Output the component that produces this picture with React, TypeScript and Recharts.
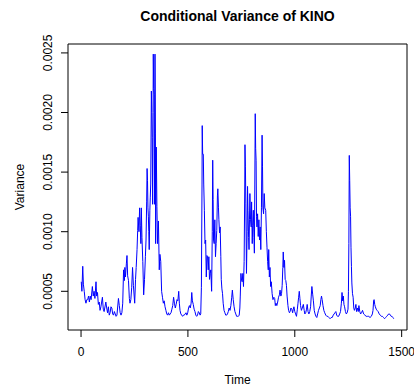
import { LineChart, Line, XAxis, YAxis, ReferenceArea } from "recharts";

// [time index, conditional variance in units of 1e-4]
const points: [number, number][] = [
  [1, 5.8], [4, 5.0], [8, 7.1], [11, 5.6], [15, 5.0], [19, 4.3], [23, 4.0], [27, 4.3],
  [31, 4.3], [35, 4.6], [39, 4.1], [43, 4.6], [47, 4.3], [53, 5.4], [57, 4.6], [61, 5.0],
  [65, 4.4], [70, 5.8], [73, 4.6], [77, 4.9], [81, 3.9], [85, 4.1], [89, 3.4], [93, 3.7],
  [100, 4.5], [104, 3.5], [108, 3.3], [116, 4.1], [120, 3.6], [124, 3.2], [128, 3.7], [132, 3.0],
  [136, 3.2], [140, 3.7], [144, 3.6], [148, 3.1], [152, 3.0], [156, 3.3], [160, 3.1], [164, 2.9],
  [168, 3.0], [175, 4.4], [179, 3.8], [183, 3.2], [187, 3.0], [191, 3.2], [195, 4.0], [199, 6.8],
  [203, 5.9], [205, 7.0], [208, 6.2], [212, 7.3], [215, 8.0], [218, 6.3], [222, 5.9], [226, 4.4],
  [229, 4.0], [233, 4.3], [237, 5.3], [241, 7.0], [245, 5.5], [251, 4.0], [255, 6.0], [258, 7.0],
  [262, 8.5], [265, 10.1], [267, 11.2], [271, 10.0], [274, 12.0], [277, 10.5], [280, 9.0], [282, 12.0],
  [285, 9.5], [289, 7.5], [293, 4.7], [297, 6.0], [301, 7.9], [304, 9.3], [307, 12.5], [309, 15.3],
  [311, 14.3], [313, 12.0], [315, 11.3], [317, 10.0], [319, 8.5], [322, 11.8], [324, 12.9], [326, 14.0],
  [329, 21.8], [331, 20.0], [333, 17.9], [335, 12.3], [337, 20.0], [338, 24.9], [340, 22.0], [342, 21.5],
  [344, 12.3], [346, 24.9], [348, 18.2], [349, 9.0], [352, 17.1], [355, 12.1], [358, 9.0], [362, 10.9],
  [366, 6.8], [369, 8.1], [373, 7.5], [377, 5.0], [381, 4.5], [385, 4.0], [389, 4.2], [393, 3.7],
  [397, 3.4], [401, 3.1], [405, 3.0], [409, 3.2], [413, 3.0], [417, 3.1], [421, 3.2], [425, 3.5],
  [429, 3.8], [433, 4.5], [437, 4.0], [441, 3.6], [445, 3.9], [449, 4.3], [453, 4.2], [457, 5.0],
  [460, 4.0], [463, 3.4], [467, 3.1], [471, 3.0], [475, 2.9], [479, 3.0], [483, 3.0], [487, 3.1],
  [491, 3.2], [495, 3.0], [499, 3.2], [503, 3.6], [507, 3.8], [511, 3.6], [515, 4.0], [518, 4.9],
  [521, 4.2], [525, 3.9], [529, 3.5], [533, 3.3], [537, 3.0], [541, 2.9], [545, 3.0], [549, 3.3],
  [553, 3.2], [557, 3.0], [560, 3.1], [563, 5.3], [566, 14.0], [567, 18.9], [569, 16.5], [572, 16.5],
  [574, 14.0], [577, 11.8], [580, 9.0], [583, 9.3], [586, 6.2], [589, 8.0], [592, 7.9], [595, 6.8],
  [598, 7.9], [601, 6.0], [604, 6.5], [607, 6.8], [611, 5.0], [614, 10.0], [616, 16.0], [618, 12.7],
  [620, 9.3], [623, 9.0], [626, 11.0], [629, 7.9], [632, 9.0], [635, 10.1], [638, 13.0], [640, 13.6],
  [643, 12.0], [645, 11.0], [648, 9.9], [651, 10.4], [654, 7.9], [656, 6.0], [659, 5.2], [662, 4.8],
  [665, 4.0], [669, 3.4], [673, 3.2], [677, 3.0], [681, 3.0], [685, 3.1], [689, 3.3], [693, 3.6],
  [697, 3.4], [701, 3.8], [705, 4.5], [708, 5.1], [712, 4.3], [716, 3.7], [720, 3.3], [724, 3.1],
  [728, 2.9], [732, 2.9], [736, 2.9], [740, 3.0], [743, 3.6], [745, 4.6], [748, 6.5], [751, 5.9],
  [754, 5.8], [757, 6.5], [760, 5.4], [763, 7.5], [766, 14.0], [767, 17.3], [769, 15.5], [771, 12.4],
  [774, 6.5], [777, 10.0], [779, 13.8], [781, 11.8], [784, 9.5], [786, 8.5], [788, 11.0], [790, 13.2],
  [793, 11.0], [796, 10.4], [798, 12.5], [801, 9.0], [803, 10.5], [806, 11.8], [809, 9.5], [811, 8.2],
  [813, 14.0], [815, 19.9], [817, 17.0], [819, 16.0], [821, 11.3], [823, 10.4], [826, 11.5], [829, 9.6],
  [832, 11.0], [835, 9.3], [838, 10.4], [841, 8.5], [844, 12.0], [847, 18.1], [849, 15.5], [851, 12.0],
  [854, 11.5], [857, 13.2], [860, 12.0], [864, 11.8], [867, 10.0], [870, 8.7], [873, 7.5], [876, 6.8],
  [878, 8.5], [881, 6.2], [884, 7.0], [887, 5.4], [890, 5.8], [894, 4.8], [898, 4.3], [902, 4.5],
  [906, 4.4], [909, 3.8], [912, 4.0], [916, 3.8], [920, 4.1], [924, 4.5], [928, 4.7], [931, 5.1],
  [935, 4.6], [938, 4.8], [941, 5.5], [944, 7.0], [946, 8.3], [949, 7.0], [952, 7.6], [955, 6.0],
  [958, 5.9], [961, 5.5], [964, 4.6], [968, 3.8], [971, 3.4], [975, 3.2], [978, 3.3], [982, 3.6],
  [986, 3.5], [990, 3.2], [993, 3.5], [996, 3.7], [1000, 3.3], [1004, 3.1], [1008, 2.9], [1012, 3.5],
  [1015, 4.0], [1018, 4.5], [1021, 5.0], [1024, 4.4], [1027, 3.8], [1031, 3.4], [1035, 3.6], [1040, 3.9],
  [1044, 3.4], [1047, 3.1], [1051, 3.2], [1055, 3.5], [1058, 3.9], [1062, 3.3], [1066, 3.1], [1070, 3.3],
  [1074, 3.7], [1077, 4.6], [1080, 5.4], [1084, 4.7], [1087, 4.2], [1091, 3.4], [1095, 3.1], [1099, 2.9],
  [1103, 2.8], [1107, 3.1], [1111, 3.4], [1115, 3.6], [1119, 3.8], [1122, 4.3], [1125, 4.6], [1128, 4.3],
  [1132, 3.8], [1136, 3.4], [1140, 3.2], [1145, 3.0], [1150, 2.9], [1155, 2.9], [1160, 2.8], [1165, 2.7],
  [1170, 2.8], [1175, 2.8], [1180, 3.0], [1184, 3.1], [1188, 3.2], [1192, 3.3], [1196, 3.0], [1200, 2.9],
  [1205, 2.9], [1210, 3.1], [1214, 3.3], [1218, 4.0], [1221, 4.9], [1224, 4.2], [1227, 4.6], [1230, 3.9],
  [1233, 3.7], [1237, 3.3], [1241, 3.1], [1245, 3.2], [1249, 3.5], [1251, 5.0], [1253, 9.0], [1255, 16.4],
  [1257, 14.3], [1259, 12.0], [1261, 11.3], [1263, 8.7], [1265, 7.1], [1267, 5.7], [1270, 4.8], [1273, 4.5],
  [1276, 3.6], [1279, 3.4], [1283, 3.6], [1286, 3.9], [1289, 3.3], [1293, 3.6], [1297, 3.3], [1300, 3.8],
  [1304, 3.3], [1308, 3.1], [1312, 3.2], [1317, 3.4], [1322, 3.1], [1328, 3.0], [1334, 2.9], [1340, 2.9],
  [1346, 2.9], [1352, 2.8], [1358, 2.9], [1363, 3.1], [1366, 3.4], [1369, 4.2], [1371, 4.3], [1374, 3.9],
  [1377, 3.7], [1381, 3.5], [1385, 3.4], [1390, 3.3], [1395, 3.1], [1400, 3.0], [1405, 2.9], [1410, 2.9],
  [1415, 2.8], [1420, 2.7], [1425, 2.8], [1430, 2.9], [1435, 3.0], [1439, 3.1], [1443, 3.1], [1447, 3.0],
  [1451, 2.9], [1455, 2.9], [1459, 2.8], [1463, 2.7],
];

const xTicks = [0, 500, 1000, 1500];
const yTicks = [0.0005, 0.001, 0.0015, 0.002, 0.0025];

const X_DOMAIN: [number, number] = [-61, 1525];
const Y_DOMAIN: [number, number] = [0.0001753, 0.0025748];

const data = points.map(([t, v]) => ({ t, v: v * 1e-4 }));

const FONT = "'Liberation Sans', Arial, sans-serif";

const XTick = (props: any) => {
  const { x, payload } = props;
  return (
    <text x={x} y={356} textAnchor="middle" fontSize={12} fontFamily={FONT} fill="#000">
      {payload.value}
    </text>
  );
};

const YTick = (props: any) => {
  const { y, payload } = props;
  const bx = 52;
  return (
    <text x={bx} y={y} textAnchor="middle" fontSize={12} fontFamily={FONT} fill="#000"
      transform={`rotate(-90, ${bx}, ${y})`}>
      {Number(payload.value).toFixed(4)}
    </text>
  );
};

export default function App() {
  return (
    <div style={{ position: "absolute", left: 0, top: 0, width: 414, height: 390, background: "#fff", fontFamily: FONT }}>
      <LineChart width={414} height={390} data={data} margin={{ top: 44, right: 7, bottom: 0, left: 0 }}>
        <XAxis dataKey="t" type="number" domain={X_DOMAIN} ticks={xTicks} allowDataOverflow
          height={60} tickSize={7} axisLine={false} tickLine={{ stroke: "#000" }} tick={<XTick />} interval={0} />
        <YAxis type="number" domain={Y_DOMAIN} ticks={yTicks} allowDataOverflow
          width={68} tickSize={7} axisLine={false} tickLine={{ stroke: "#000" }} tick={<YTick />} interval={0} />
        <ReferenceArea x1={X_DOMAIN[0]} x2={X_DOMAIN[1]} y1={Y_DOMAIN[0]} y2={Y_DOMAIN[1]}
          fill="none" fillOpacity={0} stroke="#000" strokeWidth={1} ifOverflow="visible" />
        <Line type="linear" dataKey="v" stroke="#0000ff" strokeWidth={1} dot={false} isAnimationActive={false} />
      </LineChart>
      <div style={{ position: "absolute", left: 0, width: 475, top: 7, textAlign: "center", fontSize: 14, fontWeight: "bold", lineHeight: "18px" }}>
        Conditional Variance of KINO
      </div>
      <div style={{ position: "absolute", left: 0, width: 475, top: 372, textAlign: "center", fontSize: 12, lineHeight: "16px" }}>
        Time
      </div>
      <div style={{ position: "absolute", left: 20, top: 187, width: 0, height: 0 }}>
        <div style={{ position: "absolute", transform: "translate(-50%, -50%) rotate(-90deg)", whiteSpace: "nowrap", fontSize: 12, lineHeight: "16px" }}>
          Variance
        </div>
      </div>
    </div>
  );
}
